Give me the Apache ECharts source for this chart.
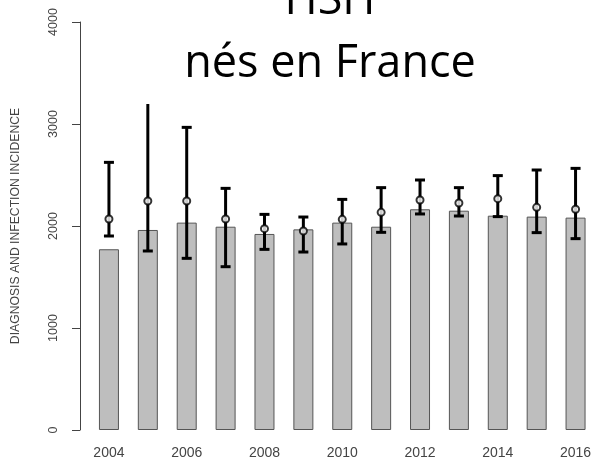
<!DOCTYPE html>
<html>
<head>
<meta charset="utf-8">
<script src="https://cdn.jsdelivr.net/npm/echarts@6/dist/echarts.min.js"></script>
<style>
    html, body { margin: 0; padding: 0; background: #fff; }
    #chart { width: 595px; height: 462px; }
</style>
</head>
<body>
<div id="chart"></div>
<script>
    // annees
    var years = ['2004','2005','2006','2007','2008','2009','2010','2011','2012','2013','2014','2015','2016'];
    // diagnostics (barres)
    var diagnoses = [1772, 1961, 2033, 1993, 1922, 1967, 2033, 1993, 2164, 2150, 2101, 2092, 2082];
    // incidence estimee (points) et intervalle
    var incidence = [2069, 2245, 2245, 2069, 1974, 1951, 2065, 2134, 2255, 2225, 2268, 2183, 2164];
    var lowerCI = [1902, 1755, 1683, 1601, 1771, 1745, 1824, 1938, 2118, 2098, 2092, 1935, 1876];
    var upperCI = [2624, 3350, 2967, 2369, 2114, 2088, 2261, 2376, 2451, 2376, 2494, 2549, 2565];
    var yTicks = [0, 1000, 2000, 3000, 4000];

    var myChart = echarts.init(document.getElementById('chart'));

    var errData = years.map(function (y, i) {
        return [i, lowerCI[i], upperCI[i]];
    });
    var pointData = years.map(function (y, i) {
        return [i, incidence[i]];
    });

    var option = {
        animation: false,
        backgroundColor: '#fff',
        title: [
            {
                text: 'HSH',
                left: 325, top: -26,
                textAlign: 'center',
                z: 101,
                textStyle: { fontFamily: 'Open Sans', fontWeight: 'normal', fontSize: 45, color: '#000' }
            },
            {
                text: 'nés en France',
                left: 325, top: 37,
                textAlign: 'center',
                z: 101,
                textStyle: { fontFamily: 'Open Sans', fontWeight: 'normal', fontSize: 45, color: '#000' }
            }
        ],
        graphic: [{
            type: 'rect',
            z: 100,
            shape: { x: 100, y: 0, width: 460, height: 104 },
            style: { fill: '#fff' }
        }],
        grid: { left: 89.5, right: 0, top: 22, bottom: 32 },
        xAxis: {
            type: 'category',
            data: years,
            axisLine: { show: false },
            axisTick: { show: false },
            axisLabel: {
                interval: 1,
                margin: 16,
                fontFamily: 'Liberation Sans',
                fontSize: 14,
                color: '#444'
            }
        },
        yAxis: {
            type: 'value',
            min: yTicks[0],
            max: yTicks[yTicks.length - 1],
            interval: 1000,
            offset: 9.5,
            name: 'DIAGNOSIS AND INFECTION INCIDENCE',
            nameLocation: 'middle',
            nameGap: 58,
            nameTextStyle: { fontFamily: 'Liberation Sans', fontSize: 12.2, color: '#444' },
            axisLine: { show: true, lineStyle: { color: '#444', width: 1 } },
            axisTick: { show: true, length: 8, lineStyle: { color: '#444' } },
            splitLine: { show: false },
            axisLabel: {
                rotate: 90,
                margin: 20,
                fontFamily: 'Liberation Sans',
                fontSize: 12.5,
                color: '#444',
                formatter: function (v) { return String(v); }
            }
        },
        series: [
            {
                type: 'bar',
                data: diagnoses,
                barWidth: 20,
                itemStyle: { color: '#bebebe', borderColor: '#555', borderWidth: 1 }
            },
            {
                type: 'custom',
                data: errData,
                z: 3,
                renderItem: function (params, api) {
                    var lo = api.coord([api.value(0), api.value(1)]);
                    var hi = api.coord([api.value(0), api.value(2)]);
                    var hw = 5;
                    var st = { stroke: '#000', lineWidth: 3 };
                    return {
                        type: 'group',
                        children: [
                            { type: 'line', shape: { x1: lo[0], y1: lo[1], x2: hi[0], y2: hi[1] }, style: st },
                            { type: 'line', shape: { x1: lo[0] - hw, y1: lo[1], x2: lo[0] + hw, y2: lo[1] }, style: st },
                            { type: 'line', shape: { x1: hi[0] - hw, y1: hi[1], x2: hi[0] + hw, y2: hi[1] }, style: st }
                        ]
                    };
                },
                encode: { x: 0, y: [1, 2] }
            },
            {
                type: 'scatter',
                data: pointData,
                z: 4,
                symbol: 'emptyCircle',
                symbolSize: 7,
                itemStyle: { color: '#000', borderColor: '#000', borderWidth: 2.5 }
            }
        ]
    };

    myChart.setOption(option);
</script>
</body>
</html>
